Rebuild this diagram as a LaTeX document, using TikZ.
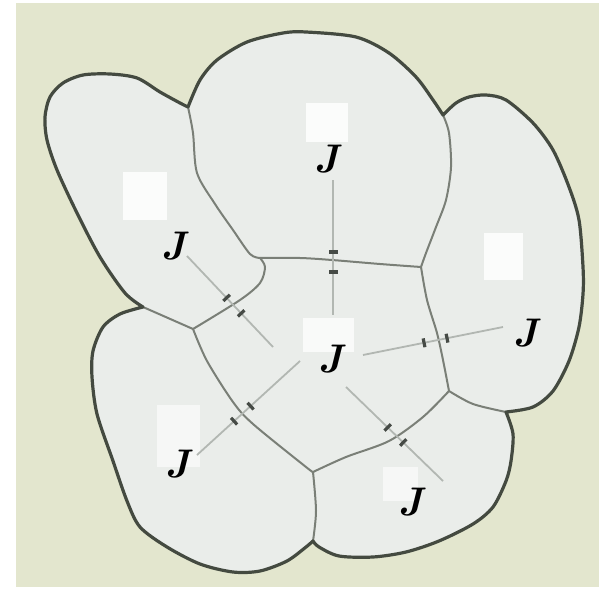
\documentclass[tikz,border=0pt]{standalone}
\usepackage{fontspec}
\usetikzlibrary{calc}
\definecolor{bgcol}{RGB}{227,230,206}
\definecolor{cellcol}{RGB}{234,237,234}
\definecolor{outcol}{RGB}{68,74,64}
\definecolor{edgecol}{RGB}{122,127,119}
\definecolor{conncol}{RGB}{178,183,178}
\definecolor{tickcol}{RGB}{70,75,70}
\newcommand\gapjunction[4]{%
  \foreach \tt in {#3,#4}{%
    \path ($(#1)!\tt!(#2)$) coordinate (tm);
    \draw[tickmark] ($(tm)!4.5pt!90:(#2)$) -- ($(tm)!4.5pt!-90:(#2)$);
  }}
\begin{document}
\begin{tikzpicture}[x=1pt,y=-1pt,
  outline/.style={draw=outcol,line width=3.2pt,line join=round},
  cellwall/.style={draw=edgecol,line width=2pt,line join=round,line cap=round},
  connector/.style={draw=conncol,line width=1.8pt},
  tickmark/.style={draw=tickcol,line width=3.2pt},
  patch/.style={fill=white},
  jlabel/.style={font=\fontsize{40}{40}\selectfont\bfseries\itshape,inner sep=0pt,text=black}]
\useasboundingbox (0,0) rectangle (612,588);
\fill[white] (0,0) rectangle (612,588);
\fill[bgcol] (16,3) rectangle (599,587);

% cell fill (union)
\fill[cellcol]
  plot[smooth] coordinates {(188,107) (200,80) (217,60) (247,42) (283,33) (306,32) (356,37) (389,53) (416,77) (433,100) (443,115)}
  -- plot[smooth] coordinates {(443,115) (456,103) (469,97) (486,95) (506,100) (533,123) (553,150) (569,187) (579,220) (583,267) (583,294) (579,327) (569,361) (553,391) (533,407) (506,412)}
  -- plot[smooth] coordinates {(506,412) (513,434) (511,461) (506,481) (493,507) (473,524) (439,541) (406,552) (373,557) (339,556) (319,547) (313,541)}
  -- plot[smooth] coordinates {(313,541) (306,547) (287,561) (260,571) (233,572) (200,564) (167,547) (140,527) (127,501) (113,461) (97,414) (92,377) (93,351) (103,327) (120,314) (143,307)}
  -- plot[smooth] coordinates {(143,307) (125,293) (100,257) (77,213) (57,170) (47,140) (45,117) (50,97) (63,83) (83,75) (110,74) (137,78) (160,92) (180,103) (188,107)}
  -- cycle;

% white patches
\fill[patch,opacity=0.85] (123,172) rectangle (167,220);
\fill[patch,opacity=0.85] (306,103) rectangle (348,142);
\fill[patch,opacity=0.85] (484,233) rectangle (523,280);
\fill[patch,opacity=0.75] (303,318) rectangle (354,352);
\fill[patch,opacity=0.6] (157,405) rectangle (200,467);
\fill[patch,opacity=0.6] (383,467) rectangle (418,501);

% inner cell walls
\draw[cellwall] plot[smooth] coordinates {(188,107) (193,133) (197,173) (215,204) (233,230) (250,254) (260,258)};
\draw[cellwall] plot[smooth] coordinates {(260,258) (300,258) (332,260) (380,264) (421,267)};
\draw[cellwall] plot[smooth] coordinates {(443,115) (449,133) (451,167) (446,200) (436,227) (426,253) (421,267)};
\draw[cellwall] plot[smooth] coordinates {(421,267) (427,300) (437,333) (443,360) (449,391)};
\draw[cellwall] plot[smooth] coordinates {(449,391) (473,404) (506,412)};
\draw[cellwall] plot[smooth] coordinates {(449,391) (423,417) (389,441) (346,457) (313,472)};
\draw[cellwall] plot[smooth] coordinates {(313,472) (316,511) (313,541)};
\draw[cellwall] plot[smooth] coordinates {(313,472) (306,467) (253,424) (233,402) (207,361) (193,329)};
\draw[cellwall] plot[smooth] coordinates {(143,307) (168,318) (193,329)};
\draw[cellwall] plot[smooth] coordinates {(193,329) (240,300) (260,283) (265,267) (260,258)};

% outer outline
\draw[outline]
  plot[smooth] coordinates {(188,107) (200,80) (217,60) (247,42) (283,33) (306,32) (356,37) (389,53) (416,77) (433,100) (443,115)}
  -- plot[smooth] coordinates {(443,115) (456,103) (469,97) (486,95) (506,100) (533,123) (553,150) (569,187) (579,220) (583,267) (583,294) (579,327) (569,361) (553,391) (533,407) (506,412)}
  -- plot[smooth] coordinates {(506,412) (513,434) (511,461) (506,481) (493,507) (473,524) (439,541) (406,552) (373,557) (339,556) (319,547) (313,541)}
  -- plot[smooth] coordinates {(313,541) (306,547) (287,561) (260,571) (233,572) (200,564) (167,547) (140,527) (127,501) (113,461) (97,414) (92,377) (93,351) (103,327) (120,314) (143,307)}
  -- plot[smooth] coordinates {(143,307) (125,293) (100,257) (77,213) (57,170) (47,140) (45,117) (50,97) (63,83) (83,75) (110,74) (137,78) (160,92) (180,103) (188,107)}
  -- cycle;

% labels
\node[jlabel] (jt) at (327,159) {J};
\node[jlabel] (jl) at (174,246) {J};
\node[jlabel] (jr) at (526,333) {J};
\node[jlabel] (jc) at (331,359) {J};
\node[jlabel] (jbl) at (178,464) {J};
\node[jlabel] (jbr) at (411,502) {J};

% connector end points
\coordinate (ct) at (333,315);
\coordinate (tt) at (333,180);
\coordinate (cl) at (273,347);
\coordinate (ll) at (187,256);
\coordinate (cr) at (363,355);
\coordinate (rr) at (503,327);
\coordinate (cbl) at (300,361);
\coordinate (bbl) at (197,455);
\coordinate (cbr) at (346,387);
\coordinate (bbr) at (443,481);

\draw[connector] (tt) -- (ct);
\draw[connector] (ll) -- (cl);
\draw[connector] (cr) -- (rr);
\draw[connector] (cbl) -- (bbl);
\draw[connector] (cbr) -- (bbr);

\gapjunction{tt}{ct}{0.533}{0.681}
\gapjunction{ll}{cl}{0.46}{0.63}
\gapjunction{cr}{rr}{0.436}{0.60}
\gapjunction{cbl}{bbl}{0.48}{0.64}
\gapjunction{cbr}{bbr}{0.43}{0.59}
\end{tikzpicture}
\end{document}
